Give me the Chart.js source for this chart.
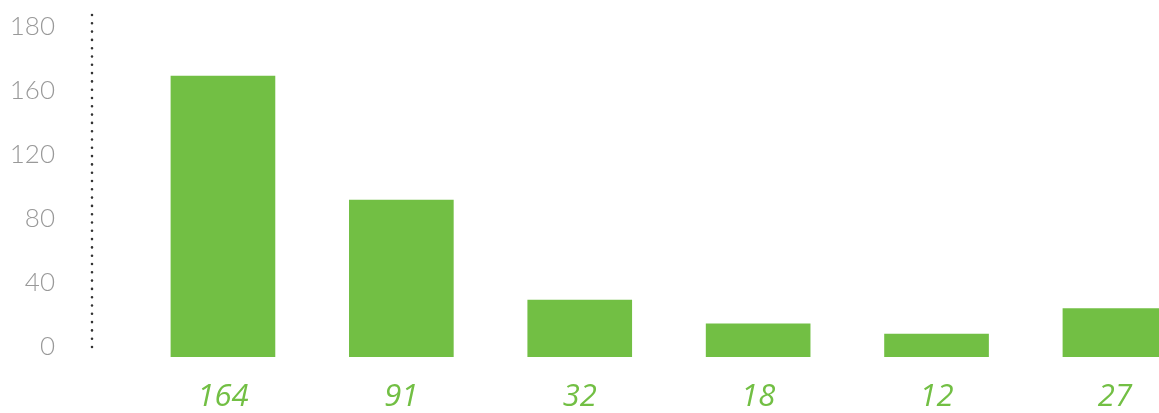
<!DOCTYPE html>
<html>
<head>
<meta charset="utf-8">
<script src="https://cdn.jsdelivr.net/npm/chart.js@4"></script>
<style>
  html, body { margin: 0; padding: 0; background: #fff; overflow: hidden; }
  #wrap { width: 1159px; height: 413px; }
</style>
</head>
<body>
<div id="wrap"><canvas id="myChart"></canvas></div>
<script>
const categories = ['164', '91', '32', '18', '12', '27'];
const values = [164, 91, 32, 18, 12, 27];
const yTickLabels = ['0', '40', '80', '120', '160', '180'];

const GREEN = '#72bf44';

// dotted vertical axis line (border.dash only applies to grid lines)
const dottedAxis = {
  id: 'dottedAxis',
  afterDraw(chart) {
    const s = chart.scales.yl;
    const { ctx, chartArea } = chart;
    ctx.save();
    ctx.strokeStyle = '#333';
    ctx.lineWidth = 2.6;
    ctx.lineCap = 'round';
    ctx.setLineDash([0, 8.3]);
    ctx.beginPath();
    ctx.moveTo(s.right, chartArea.top);
    ctx.lineTo(s.right, chartArea.bottom - 2);
    ctx.stroke();
    ctx.restore();
  }
};

// drop the extra padding chart.js reserves around tick labels
const noPad = s => { s.paddingTop = 0; s.paddingBottom = 0; s.paddingLeft = 0; s.paddingRight = 0; };

const ctxt = document.getElementById('myChart').getContext('2d');

const myChart = new Chart(ctxt, {
  type: 'bar',
  data: {
    datasets: [{
      data: values.map((v, i) => ({ x: i, y: v })),
      backgroundColor: GREEN,
      borderWidth: 0,
      barThickness: 104,
      base: -1.5,
      yAxisID: 'y'
    }]
  },
  options: {
    responsive: true,
    maintainAspectRatio: false,
    animation: false,
    layout: { autoPadding: false, padding: { top: 15, left: 0, right: 0, bottom: 0 } },
    plugins: { legend: { display: false }, tooltip: { enabled: false } },
    scales: {
      x: {
        type: 'linear',
        offset: false,
        min: -0.734,
        max: 5.247,
        afterBuildTicks: s => { s.ticks = categories.map((_, i) => ({ value: i })); },
        afterFit: s => { s.height = 56; noPad(s); },
        grid: { display: false, drawTicks: false, offset: false },
        border: { display: false },
        ticks: {
          callback: (v, i) => categories[i],
          color: GREEN,
          padding: 22,
          maxRotation: 0,
          autoSkip: false,
          font: { family: 'Open Sans', size: 31, style: 'italic' }
        }
      },
      // bars are drawn against this hidden axis
      y: {
        display: false,
        min: -1.5,
        max: 200
      },
      // visible axis with the printed tick labels
      yl: {
        position: 'left',
        min: -6.25,
        max: 207.5,
        afterBuildTicks: s => { s.ticks = yTickLabels.map((_, i) => ({ value: i * 40 })); },
        afterFit: s => { s.width = 92; noPad(s); },
        grid: { display: false, drawTicks: false },
        border: { display: false },
        ticks: {
          callback: (v, i) => yTickLabels[i],
          color: '#999',
          padding: 37,
          font: { family: 'Lato', size: 26, weight: '300' }
        }
      }
    }
  },
  plugins: [dottedAxis]
});
</script>
</body>
</html>
